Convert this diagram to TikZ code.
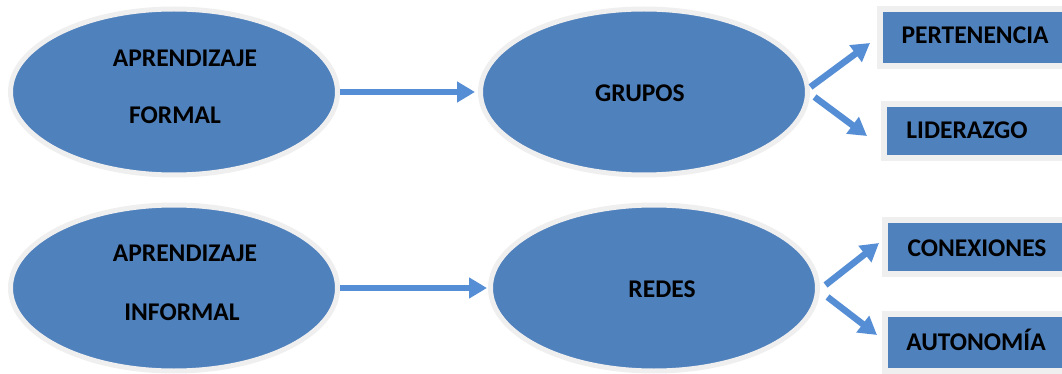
\documentclass[tikz,border=0pt]{standalone}
\usepackage{fontspec}
\setmainfont{Carlito}
\usetikzlibrary{shapes.geometric,arrows.meta}
\definecolor{ovalblue}{HTML}{4F81BD}
\definecolor{rimgray}{HTML}{EFEFEF}
\definecolor{arrowblue}{HTML}{558ED5}
\tikzset{
  oval/.style={ellipse, fill=ovalblue, draw=rimgray, line width=5pt, minimum width=327pt, minimum height=166pt, inner sep=0pt},
  boxnode/.style={rectangle, fill=ovalblue, draw=rimgray, line width=6pt, inner sep=0pt},
  lbl/.style={font=\fontsize{25.5}{30}\selectfont\bfseries, text=black, inner sep=0pt},
  arr/.style={draw=arrowblue, line width=6.5pt, -{Triangle[length=18pt,width=20pt]}}
}
\begin{document}
\begin{tikzpicture}[x=1pt,y=-1pt]
\useasboundingbox (0,0) rectangle (1062,374);
\clip (0,0) rectangle (1062,374);
% ovals
\node[oval] (f1) at (174,92) {};
\node[oval] (g1) at (644,92) {};
\node[oval] (i1) at (174,288) {};
\node[oval] (r1) at (654,288) {};
% boxes
\node[boxnode, minimum width=190pt, minimum height=57pt] (p1) at (975,37.5) {};
\node[boxnode, minimum width=186pt, minimum height=54pt] (l1) at (977,131) {};
\node[boxnode, minimum width=185pt, minimum height=54pt] (c1) at (977.5,247) {};
\node[boxnode, minimum width=185pt, minimum height=57pt] (a1) at (977.5,342.5) {};
% labels
\node[lbl] (tf1a) at (185,58) {APRENDIZAJE};
\node[lbl] (tf1b) at (175,115) {FORMAL};
\node[lbl] (tg1) at (640,93) {GRUPOS};
\node[lbl] (ti1a) at (185,253) {APRENDIZAJE};
\node[lbl] (ti1b) at (182,312) {INFORMAL};
\node[lbl] (tr1) at (662,289) {REDES};
\node[lbl] (tp1) at (975,35) {PERTENENCIA};
\node[lbl] (tl1) at (967,130) {LIDERAZGO};
\node[lbl] (tc1) at (977,248) {CONEXIONES};
\node[lbl] (ta1) at (976,340) {AUTONOMÍA};
% connectors
\draw[arr] (f1.east) -- ([xshift=-3pt]g1.west);
\draw[arr] (i1.east) -- ([xshift=-1pt]r1.west |- i1.east);
\draw[arr] ([shift={(0.5,-5)}]g1.east) -- ([shift={(-7,5.5)}]p1.west);
\draw[arr] ([shift={(4.5,5)}]g1.east) -- ([shift={(-14,5)}]l1.west);
\draw[arr] ([shift={(5.5,-3)}]r1.east) -- ([shift={(-3,-4)}]c1.west);
\draw[arr] ([shift={(7.5,9)}]r1.east) -- ([shift={(-5,-7.5)}]a1.west);
\end{tikzpicture}
\end{document}
